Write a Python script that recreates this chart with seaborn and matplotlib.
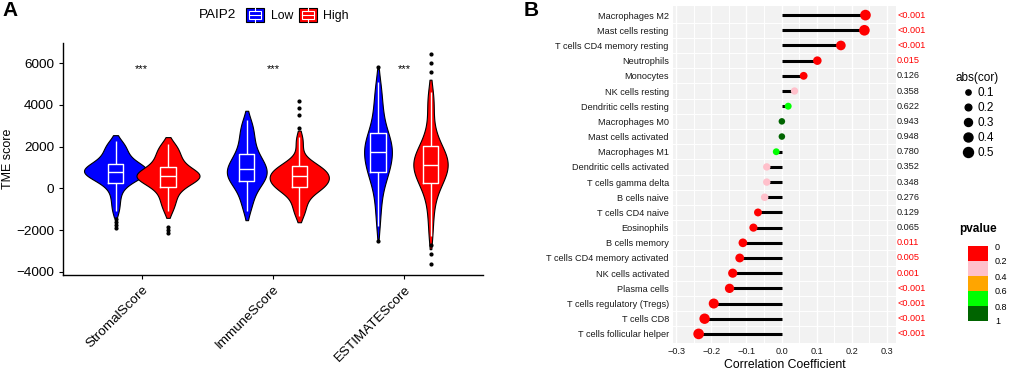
import matplotlib
matplotlib.use("Agg")
import matplotlib.pyplot as plt
import matplotlib.transforms as mtransforms
from matplotlib.colors import ListedColormap, BoundaryNorm
from matplotlib.cm import ScalarMappable
from matplotlib.lines import Line2D
from matplotlib.patches import Patch, Rectangle
from matplotlib.legend_handler import HandlerBase
import numpy as np
import pandas as pd
import seaborn as sns

# ---- panel A data (TME scores, hand-estimated samples per group) ----
scores = ['StromalScore', 'ImmuneScore', 'ESTIMATEScore']
groups = ['Low', 'High']

# bulk of each group (drawn as violin) and the outlying samples (box-plot points)
stromal_low = [-1100, -700, -350, -50, 170, 285, 380, 460, 530, 590, 640, 690,
               730, 760, 800, 840, 880, 920, 960, 1000, 1050, 1100, 1160, 1230,
               1320, 1430, 1560, 1680, 1820, 1960, 2100, 2250]
stromal_low_out = [-1900, -1750, -1600, -1450]
stromal_high = [-1100, -800, -600, -400, -200, -30, 75, 170, 250, 320, 390, 450,
                500, 540, 560, 586, 620, 660, 700, 740, 790, 840, 900, 990,
                1100, 1200, 1320, 1450, 1550, 1700, 1850, 2000, 2150]
stromal_high_out = [-2130, -2000, -1850]
immune_low = [-1100, -800, -550, -350, -170, 0, 130, 230, 330, 380, 450, 520,
              590, 650, 710, 770, 830, 890, 956, 1020, 1090, 1170, 1250, 1330,
              1420, 1510, 1600, 1760, 1920, 2100, 2250, 2450, 2650, 2850, 3050, 3300]
immune_low_out = []
immune_high = [-1300, -1000, -760, -530, -340, -190, -70, 0, 40, 72, 140, 210,
               280, 340, 400, 450, 500, 545, 600, 650, 700, 760, 820, 880,
               950, 1010, 1060, 1150, 1280, 1450, 2000, 2450]
immune_high_out = [2900, 3500, 3850, 4200]
estimate_low = [-1800, -1100, -600, -200, 150, 400, 580, 720, 800, 930, 1060, 1180,
                1300, 1420, 1530, 1630, 1720, 1812, 1900, 1990, 2080, 2180, 2280, 2390,
                2500, 2620, 2830, 3050, 3300, 3580, 3900, 4250, 4650, 5100]
estimate_low_out = [-2500, 5800]
estimate_high = [-2300, -1500, -900, -450, -100, 150, 270, 400, 520, 640, 750, 860,
                 960, 1040, 1100, 1192, 1280, 1370, 1460, 1560, 1660, 1760, 1860, 1980,
                 2270, 2550, 2850, 3600, 4100, 4600]
estimate_high_out = [-3600, -3150, -2700, 5600, 6000, 6450]

# ---- panel B data (immune cell correlation) ----
cells = ['Macrophages M2', 'Mast cells resting', 'T cells CD4 memory resting',
         'Neutrophils', 'Monocytes', 'NK cells resting', 'Dendritic cells resting',
         'Macrophages M0', 'Mast cells activated', 'Macrophages M1',
         'Dendritic cells activated', 'T cells gamma delta', 'B cells naive',
         'T cells CD4 naive', 'Eosinophils', 'B cells memory',
         'T cells CD4 memory activated', 'NK cells activated', 'Plasma cells',
         'T cells regulatory (Tregs)', 'T cells CD8', 'T cells follicular helper']
cor = [0.239, 0.236, 0.169, 0.102, 0.063, 0.037, 0.019, 0.001, 0.001, -0.015,
       -0.042, -0.042, -0.048, -0.067, -0.080, -0.110, -0.119, -0.139, -0.148,
       -0.193, -0.219, -0.236]
pvalue = [0.0005, 0.0005, 0.0005, 0.015, 0.126, 0.358, 0.622, 0.943, 0.948, 0.780,
          0.352, 0.348, 0.276, 0.129, 0.065, 0.011, 0.005, 0.001, 0.0005,
          0.0005, 0.0005, 0.0005]
p_bins = [0, 0.2, 0.4, 0.6, 0.8, 1]
p_colors = ['#FF0000', '#FFC0CB', '#FFA500', '#00FF00', '#006400']
size_levels = [0.1, 0.2, 0.3, 0.4, 0.5]

plt.rcParams['font.family'] = ['Liberation Sans', 'DejaVu Sans']

fig = plt.figure(figsize=(10.1, 3.72), dpi=100)
W, H = 1010, 372


def px_axes(left, top, right, bottom):
    return fig.add_axes([left / W, 1 - bottom / H, (right - left) / W, (bottom - top) / H])


class BoxKey(HandlerBase):
    # legend key: coloured square with a small white box-plot glyph
    def create_artists(self, legend, orig_handle, xdescent, ydescent, width, height, fontsize, trans):
        x0, y0 = -xdescent, -ydescent
        bg = Rectangle((x0, y0), width, height, facecolor=orig_handle.get_facecolor(),
                       edgecolor='black', linewidth=0.8, transform=trans)
        bx = Rectangle((x0 + width * 0.18, y0 + height * 0.25), width * 0.64, height * 0.5,
                       facecolor='none', edgecolor='white', linewidth=0.8, transform=trans)
        med = Line2D([x0 + width * 0.18, x0 + width * 0.82], [y0 + height * 0.5] * 2,
                     color='white', linewidth=0.8, transform=trans)
        w1 = Line2D([x0 + width * 0.5] * 2, [y0 + height * 0.05, y0 + height * 0.25],
                    color='white', linewidth=0.8, transform=trans)
        w2 = Line2D([x0 + width * 0.5] * 2, [y0 + height * 0.75, y0 + height * 0.95],
                    color='white', linewidth=0.8, transform=trans)
        return [bg, bx, med, w1, w2]


# ================= Panel A =================
ax1 = px_axes(63, 43, 483, 275)
core = {('StromalScore', 'Low'): stromal_low, ('StromalScore', 'High'): stromal_high,
        ('ImmuneScore', 'Low'): immune_low, ('ImmuneScore', 'High'): immune_high,
        ('ESTIMATEScore', 'Low'): estimate_low, ('ESTIMATEScore', 'High'): estimate_high}
outl = {('StromalScore', 'Low'): stromal_low_out, ('StromalScore', 'High'): stromal_high_out,
        ('ImmuneScore', 'Low'): immune_low_out, ('ImmuneScore', 'High'): immune_high_out,
        ('ESTIMATEScore', 'Low'): estimate_low_out, ('ESTIMATEScore', 'High'): estimate_high_out}
rows = []
for i, sc in enumerate(scores):
    for g in groups:
        off = -0.2 if g == 'Low' else 0.2
        for v in core[(sc, g)]:
            rows.append({'pos': i + off, 'TME': v, 'PAIP2': g, 'out': False})
        for v in outl[(sc, g)]:
            rows.append({'pos': i + off, 'TME': v, 'PAIP2': g, 'out': True})
df_tme = pd.DataFrame(rows)

sns.violinplot(data=df_tme[~df_tme['out']], x='pos', y='TME', hue='PAIP2', hue_order=groups,
               palette={'Low': '#0000FF', 'High': '#FF0000'}, native_scale=True,
               dodge=False, width=1.2, cut=1, inner=None, linecolor='black',
               linewidth=0.8, bw_adjust=0.8, density_norm='area', saturation=1,
               legend=False, ax=ax1)
sns.boxplot(data=df_tme, x='pos', y='TME', hue='PAIP2', hue_order=groups,
            palette={'Low': 'white', 'High': 'white'}, native_scale=True,
            dodge=False, width=0.29, fill=False, linewidth=1.0,
            capprops=dict(alpha=0),
            flierprops=dict(marker='o', markersize=2, markerfacecolor='black',
                            markeredgecolor='black'),
            legend=False, ax=ax1)

for i in range(len(scores)):
    ax1.text(i, 5700, '***', ha='center', va='center', fontsize=8)

ax1.set_xlim(-0.6, 2.6)
ax1.set_ylim(-4145, 6965)
ax1.set_xticks(range(len(scores)))
ax1.set_xticklabels(scores, rotation=45, ha='right', va='top', rotation_mode='anchor', fontsize=9.7)
ax1.set_yticks([-4000, -2000, 0, 2000, 4000, 6000])
ax1.tick_params(axis='y', labelsize=9.7, length=3, width=0.8, colors='black')
ax1.tick_params(axis='x', length=3, width=0.8, pad=3)
ax1.set_xlabel('')
ax1.set_ylabel('TME score', fontsize=9)
ax1.yaxis.set_label_coords(-0.117, 0.5)
for s in ['top', 'right']:
    ax1.spines[s].set_visible(False)
for s in ['left', 'bottom']:
    ax1.spines[s].set_linewidth(1.0)
    ax1.spines[s].set_color('black')

fig.text(218 / W, 1 - 15 / H, 'PAIP2', ha='center', va='center', fontsize=9.7)
handles = [Patch(facecolor='#0000FF'), Patch(facecolor='#FF0000')]
fig.legend(handles, groups, loc='center left', bbox_to_anchor=(240 / W, 1 - 15 / H),
           ncol=2, frameon=False, fontsize=8.8, handlelength=1.45, handleheight=1.45,
           handletextpad=0.55, columnspacing=0.5, borderpad=0,
           handler_map={Patch: BoxKey()})

fig.text(10 / W, 1 - 11 / H, 'A', ha='center', va='center', fontsize=15, fontweight='bold')
fig.text(531 / W, 1 - 11 / H, 'B', ha='center', va='center', fontsize=15, fontweight='bold')

# ================= Panel B =================
ax2 = px_axes(673, 6, 896, 343)
ax2.set_facecolor('#F2F2F2')
ypos = np.arange(len(cells))
pcat = np.digitize(pvalue, p_bins[1:-1])
df_cor = pd.DataFrame({'cor': cor, 'y': ypos, 'pcat': pcat, 'abs': np.abs(cor)})

ax2.hlines(df_cor['y'], 0, df_cor['cor'], color='black', linewidth=2.2, zorder=2)
sns.scatterplot(data=df_cor, x='cor', y='y', hue='pcat',
                palette={k: c for k, c in enumerate(p_colors)},
                size='abs', sizes=(22, 61), size_norm=(0, 0.25), linewidth=0,
                legend=False, ax=ax2, zorder=3)

ax2.set_xlim(-0.309, 0.326)
ax2.set_ylim(len(cells) - 0.4, -0.6)
ax2.set_xticks([-0.3, -0.2, -0.1, 0.0, 0.1, 0.2, 0.3])
ax2.set_xticklabels(['\u22120.3', '\u22120.2', '\u22120.1', '0.0', '0.1', '0.2', '0.3'])
ax2.set_xticks(np.arange(-0.25, 0.3, 0.1), minor=True)
ax2.set_yticks(ypos)
ax2.set_yticklabels(cells)
ax2.set_yticks(np.arange(0.5, len(cells) - 1, 1.0), minor=True)
ax2.grid(which='major', axis='x', color='white', linewidth=1.0)
ax2.grid(which='minor', axis='both', color='white', linewidth=0.7)
ax2.set_axisbelow(True)
ax2.tick_params(which='both', length=0, labelsize=6.6, colors='#1A1A1A', pad=3)
ax2.set_xlabel('Correlation Coefficient', fontsize=8.8, labelpad=2)
ax2.set_ylabel('')
for s in ax2.spines.values():
    s.set_visible(False)

trans = mtransforms.blended_transform_factory(ax2.transAxes, ax2.transData)
for y, p in zip(ypos, pvalue):
    lab = '<0.001' if p < 0.001 else f'{p:.3f}'
    col = '#FF0000' if p < 0.05 else '#1A1A1A'
    ax2.text(1.005, y, lab, transform=trans, ha='left', va='center', fontsize=6.6, color=col)

# size legend
size_px = [5.3, 6.7, 8.0, 9.0, 10.0]
size_handles = [Line2D([], [], marker='o', linestyle='', color='black',
                       markersize=d * 0.72) for d in size_px]
fig.legend(size_handles, [str(v) for v in size_levels], title='abs(cor)',
           loc='upper left', bbox_to_anchor=(950 / W, 1 - 66 / H), frameon=False,
           fontsize=8.5, title_fontsize=8.5, labelspacing=0.25, handletextpad=0.2,
           handlelength=1.2, borderpad=0)

# pvalue legend (binned colour steps)
cax = px_axes(968, 246, 988, 321)
cmap = ListedColormap(p_colors)
norm = BoundaryNorm(p_bins, cmap.N)
cb = fig.colorbar(ScalarMappable(norm=norm, cmap=cmap), cax=cax, ticks=p_bins)
cb.ax.set_yticklabels(['0', '0.2', '0.4', '0.6', '0.8', '1'])
cb.ax.invert_yaxis()
cb.outline.set_visible(False)
cb.ax.tick_params(length=0, labelsize=6.5, pad=5)
fig.text(978 / W, 1 - 229 / H, 'pvalue', ha='center', va='center', fontsize=8.5, fontweight='bold')

fig.savefig('out.png', dpi=100)
